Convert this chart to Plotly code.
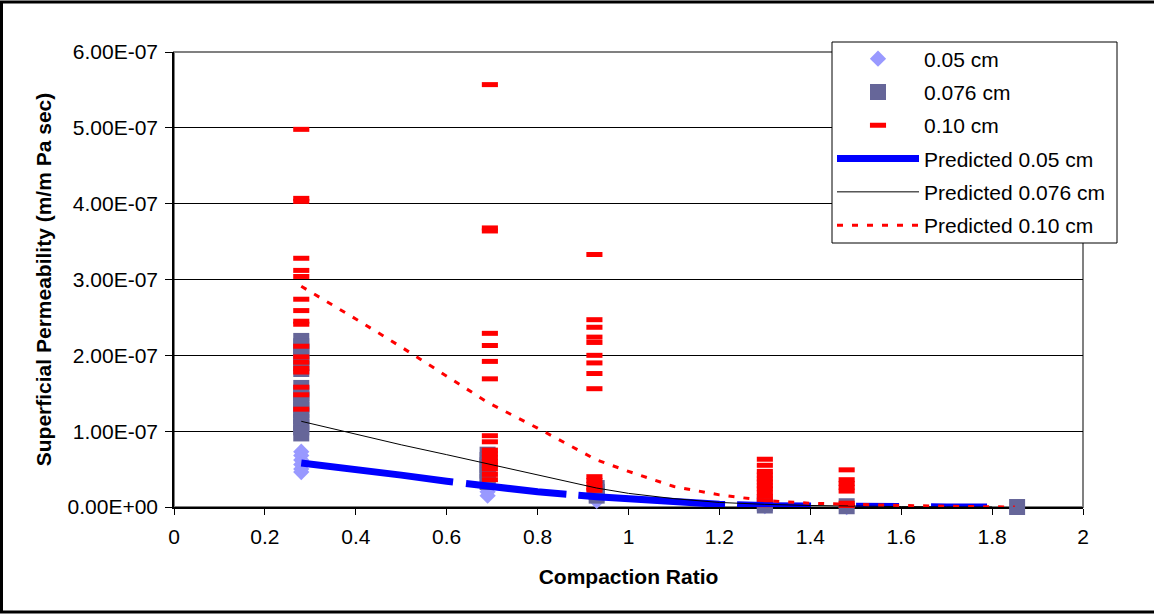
import plotly.graph_objects as go

SCALE = 1e-7  # values below are in units of 1e-7 m/m Pa sec

x_005 = [0.28]*6 + [0.69]*2 + [0.93]*1 + [1.30]*1 + [1.48]*1
y_005 = [0.73, 0.68, 0.62, 0.56, 0.50, 0.46, 0.20, 0.15, 0.08, 0.01, 0.00]

x_0076 = [0.28]*15 + [0.69]*6 + [0.93]*3 + [1.30]*2 + [1.48]*1 + [1.855]*1
y_0076 = [2.19, 2.12, 2.05, 1.98, 1.90, 1.82, 1.57, 1.50, 1.42, 1.35, 1.28, 1.20, 1.12, 1.05, 0.97,
          0.69, 0.62, 0.55, 0.48, 0.41, 0.33,
          0.25, 0.20, 0.15,
          0.05, 0.02,
          0.01,
          0.00]

x_010 = [0.28]*18 + [0.695]*17 + [0.925]*14 + [1.30]*12 + [1.48]*7
y_010 = [4.98, 4.07, 4.03, 3.28, 3.12, 3.04, 2.74, 2.59, 2.45, 2.41, 2.12, 1.98, 1.91, 1.83, 1.78, 1.58, 1.48, 1.29,
         5.57, 3.68, 3.64, 2.29, 2.13, 1.92, 1.69, 0.94, 0.86, 0.75, 0.70, 0.65, 0.60, 0.55, 0.50, 0.43, 0.36,
         3.33, 2.47, 2.37, 2.24, 2.17, 2.00, 1.90, 1.76, 1.56, 0.40, 0.35, 0.30, 0.25, 0.22,
         0.63, 0.55, 0.47, 0.42, 0.37, 0.33, 0.28, 0.24, 0.19, 0.14, 0.08, 0.03,
         0.49, 0.36, 0.31, 0.26, 0.21, 0.05, 0.02]

# ---- predicted curves ----
x_pred = [0.28, 0.40, 0.50, 0.60, 0.69, 0.80, 0.93, 1.00, 1.10, 1.20, 1.30, 1.40, 1.48, 1.60, 1.70, 1.80]
y_pred_005 = [0.58, 0.50, 0.42, 0.34, 0.275, 0.20, 0.135, 0.105, 0.065, 0.035, 0.018, 0.008, 0.004, 0.002, 0.001, 0.0]
y_pred_0076 = [1.13, 0.96, 0.82, 0.69, 0.57, 0.42, 0.25, 0.18, 0.11, 0.06, 0.035, 0.02, 0.012, 0.005, 0.002, 0.0]
x_pred_010 = x_pred + [1.85]
y_pred_010 = [2.91, 2.48, 2.11, 1.73, 1.38, 1.04, 0.62, 0.47, 0.27, 0.16, 0.085, 0.05, 0.035, 0.02, 0.01, 0.005, 0.0]

x_ticks = [0, 0.2, 0.4, 0.6, 0.8, 1.0, 1.2, 1.4, 1.6, 1.8, 2.0]
x_ticktext = ["0", "0.2", "0.4", "0.6", "0.8", "1", "1.2", "1.4", "1.6", "1.8", "2"]
y_ticks = [0, 1, 2, 3, 4, 5, 6]
y_ticktext = ["0.00E+00", "1.00E-07", "2.00E-07", "3.00E-07", "4.00E-07", "5.00E-07", "6.00E-07"]

series_names = ["0.05 cm", "0.076 cm", "0.10 cm",
                "Predicted 0.05 cm", "Predicted 0.076 cm", "Predicted 0.10 cm"]

def s(v):
    return [a * SCALE for a in v]

FONT = "Liberation Sans, Arial, sans-serif"
FS = 21

# irregular long-dash look of the thick blue predicted line (style only)
BLUE_DASH = "153px,13px,101px,12px,147px,12px,74px,45px,43px,32px,56px,300px"

fig = go.Figure()
fig.add_trace(go.Scatter(x=x_005, y=s(y_005), mode="markers", name=series_names[0],
                         legendgroup="g1", cliponaxis=False,
                         marker=dict(symbol="diamond", size=12.5, color="#9999FF",
                                     line=dict(width=0))))
fig.add_trace(go.Scatter(x=x_0076, y=s(y_0076), mode="markers", name=series_names[1],
                         legendgroup="g2", cliponaxis=False,
                         marker=dict(symbol="square", size=16, color="#666699",
                                     line=dict(width=0))))
fig.add_trace(go.Scatter(x=x_010, y=s(y_010), mode="markers", name=series_names[2],
                         legendgroup="g3", cliponaxis=False,
                         marker=dict(symbol="line-ew", size=11.5, color="#FF0000",
                                     line=dict(width=5, color="#FF0000"))))
fig.add_trace(go.Scatter(x=x_pred, y=s(y_pred_005), mode="lines", name=series_names[3],
                         legendgroup="g4", cliponaxis=False,
                         line=dict(color="#0000FF", width=7, dash=BLUE_DASH)))
fig.add_trace(go.Scatter(x=x_pred, y=s(y_pred_0076), mode="lines", name=series_names[4],
                         legendgroup="g5", cliponaxis=False,
                         line=dict(color="#000000", width=1)))
fig.add_trace(go.Scatter(x=x_pred_010, y=s(y_pred_010), mode="lines", name=series_names[5],
                         legendgroup="g6", cliponaxis=False,
                         line=dict(color="#FF0000", width=3, dash="6px,9px")))

L, R, T, B = 174, 71, 52, 108
W, H = 1154, 615
pw, ph = W - L - R, H - T - B

def px_x(p):
    return (p - L) / pw

def px_y(p):
    return (H - B - p) / ph

fig.update_layout(
    width=W, height=H,
    margin=dict(l=L, r=R, t=T, b=B, pad=0),
    paper_bgcolor="white", plot_bgcolor="white",
    font=dict(family=FONT, size=FS, color="black"),
    showlegend=True,
    legend=dict(x=px_x(832), y=px_y(38.5), xanchor="left", yanchor="top",
                bgcolor="rgba(0,0,0,0)", borderwidth=0,
                font=dict(family=FONT, size=FS, color="black"),
                itemwidth=82, traceorder="grouped", tracegroupgap=3),
    xaxis=dict(range=[0, 2], tickvals=x_ticks, ticktext=x_ticktext,
               showgrid=False, zeroline=False, layer="below traces",
               showline=True, linecolor="#000000", linewidth=1.5,
               ticks="outside", ticklen=6, tickcolor="#000000", tickwidth=1,
               ticklabelstandoff=4,
               tickfont=dict(family=FONT, size=FS, color="black"),
               title=dict(text="<b>Compaction Ratio</b>", standoff=22,
                          font=dict(family=FONT, size=FS, color="black"))),
    yaxis=dict(range=[0, 6 * SCALE], tickvals=s(y_ticks), ticktext=y_ticktext,
               showgrid=True, gridcolor="#000000", gridwidth=1,
               zeroline=False, layer="below traces",
               showline=True, linecolor="#000000", linewidth=1.5,
               ticks="outside", ticklen=7, tickcolor="#000000", tickwidth=1,
               ticklabelstandoff=3,
               tickfont=dict(family=FONT, size=FS, color="black"),
               title=dict(text="<b>Superficial Permeability (m/m Pa sec)</b>", standoff=10,
                          font=dict(family=FONT, size=FS, color="black"))),
    shapes=[
        dict(type="rect", xref="paper", yref="paper", x0=0, x1=1, y0=0, y1=1,
             line=dict(color="#808080", width=2), layer="below"),
        # legend box
        dict(type="rect", xref="paper", yref="paper",
             x0=px_x(832), x1=px_x(1117), y0=px_y(243), y1=px_y(42),
             fillcolor="white", line=dict(color="#000000", width=1), layer="above"),
        # outer chart border
        dict(type="rect", xref="paper", yref="paper",
             x0=px_x(1.5), x1=px_x(1170), y0=px_y(612), y1=px_y(2),
             line=dict(color="#000000", width=3), layer="above"),
    ],
)

fig.write_html("out.html", config={"displayModeBar": False},
               post_script="document.body.style.margin='0';document.body.style.overflow='hidden';")
